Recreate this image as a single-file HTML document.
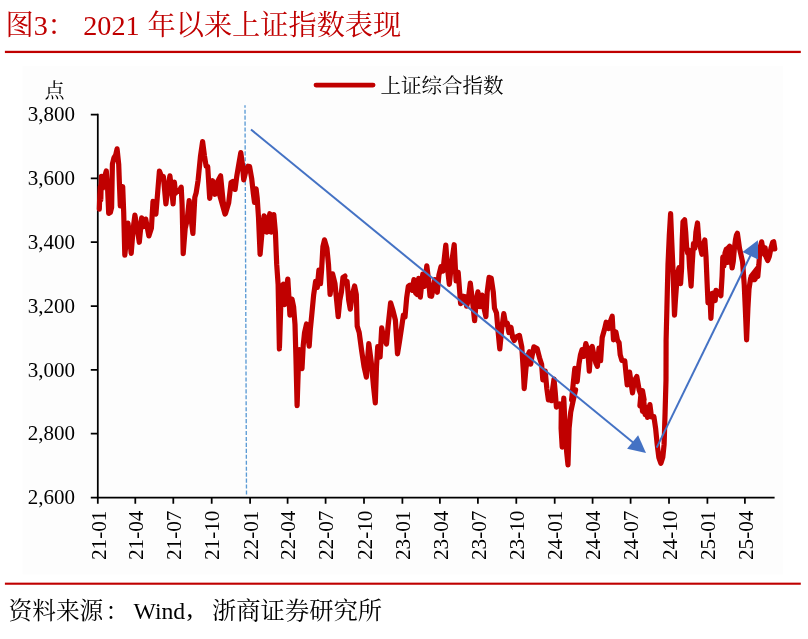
<!DOCTYPE html>
<html><head><meta charset="utf-8"><title>chart</title>
<style>html,body{margin:0;padding:0;background:#fff}body{width:808px;height:639px;position:relative;overflow:hidden;font-family:"Liberation Serif",serif}.t{position:absolute;color:transparent;white-space:nowrap;line-height:1.1;user-select:none}</style>
</head><body>
<div class="t" style="left:6px;top:8px;font-size:28px">图3： 2021 年以来上证指数表现</div>
<div class="t" style="left:45px;top:79px;font-size:20px">点</div>
<div class="t" style="left:381px;top:74px;font-size:20px">上证综合指数</div>
<div class="t" style="left:7px;top:597px;font-size:24px">资料来源：Wind，浙商证券研究所</div>
<svg role="img" aria-label="2021 年以来上证指数表现" width="808" height="639" viewBox="0 0 808 639" style="position:absolute;left:0;top:0;will-change:transform">
<rect x="22.6" y="65.8" width="760.4" height="508.7" fill="#fdfdfd"/>
<rect x="4.9" y="50.8" width="795.9" height="2.25" fill="#c00000"/>
<rect x="4.9" y="582.65" width="795.9" height="2.1" fill="#c00000"/>
<g font-family="Liberation Serif, serif" font-size="28.2" fill="#c00000">
<text x="33.8" y="34.9">3</text><text x="83.2" y="34.9">2021</text>
</g>
<g font-family="Liberation Serif, serif" font-size="23.7" fill="#000"><text x="133.5" y="619.4">Wind</text></g>
<g font-family="'Liberation Serif', 'Noto Serif CJK SC', serif" font-size="28.2" fill="#c00000">
<text x="5.5" y="34.9">图</text>
<text x="47.5" y="34.9">：</text>
<text x="147.5" y="34.9">年以来上证指数表现</text>
</g>
<text x="44.5" y="97.5" font-family="'Liberation Serif', 'Noto Serif CJK SC', serif" font-size="20" fill="#000">点</text>
<text x="380.5" y="92.5" font-family="'Liberation Serif', 'Noto Serif CJK SC', serif" font-size="20.5" fill="#000">上证综合指数</text>
<g font-family="'Liberation Serif', 'Noto Serif CJK SC', serif" fill="#000">
<text x="8.5" y="619.4" font-size="23.7">资料来源</text>
<text x="105.4" y="619.4" font-size="23.7">：</text>
<text x="212" y="619.4" font-size="24.3">浙商证券研究所</text>
</g>
<text x="186.6" y="617.4" font-family="Liberation Serif, serif" font-size="27">,</text>
<g font-family="Liberation Serif, serif" fill="#000"><text x="75.0" y="121.3" font-size="21" text-anchor="end">3,800</text><text x="75.0" y="185.1" font-size="21" text-anchor="end">3,600</text><text x="75.0" y="248.9" font-size="21" text-anchor="end">3,400</text><text x="75.0" y="312.8" font-size="21" text-anchor="end">3,200</text><text x="75.0" y="376.6" font-size="21" text-anchor="end">3,000</text><text x="75.0" y="440.4" font-size="21" text-anchor="end">2,800</text><text x="75.0" y="504.2" font-size="21" text-anchor="end">2,600</text><text transform="translate(105.5 510.6) rotate(-90)" font-size="21.2" text-anchor="end">21-01</text><text transform="translate(143.0 510.6) rotate(-90)" font-size="21.2" text-anchor="end">21-04</text><text transform="translate(181.0 510.6) rotate(-90)" font-size="21.2" text-anchor="end">21-07</text><text transform="translate(219.4 510.6) rotate(-90)" font-size="21.2" text-anchor="end">21-10</text><text transform="translate(257.8 510.6) rotate(-90)" font-size="21.2" text-anchor="end">22-01</text><text transform="translate(295.3 510.6) rotate(-90)" font-size="21.2" text-anchor="end">22-04</text><text transform="translate(333.3 510.6) rotate(-90)" font-size="21.2" text-anchor="end">22-07</text><text transform="translate(371.7 510.6) rotate(-90)" font-size="21.2" text-anchor="end">22-10</text><text transform="translate(410.1 510.6) rotate(-90)" font-size="21.2" text-anchor="end">23-01</text><text transform="translate(447.6 510.6) rotate(-90)" font-size="21.2" text-anchor="end">23-04</text><text transform="translate(485.6 510.6) rotate(-90)" font-size="21.2" text-anchor="end">23-07</text><text transform="translate(524.0 510.6) rotate(-90)" font-size="21.2" text-anchor="end">23-10</text><text transform="translate(562.4 510.6) rotate(-90)" font-size="21.2" text-anchor="end">24-01</text><text transform="translate(600.3 510.6) rotate(-90)" font-size="21.2" text-anchor="end">24-04</text><text transform="translate(638.3 510.6) rotate(-90)" font-size="21.2" text-anchor="end">24-07</text><text transform="translate(676.7 510.6) rotate(-90)" font-size="21.2" text-anchor="end">24-10</text><text transform="translate(715.1 510.6) rotate(-90)" font-size="21.2" text-anchor="end">25-01</text><text transform="translate(752.6 510.6) rotate(-90)" font-size="21.2" text-anchor="end">25-04</text></g>
<path d="M97.8 113.8V497.52M96.8 497.52H774.6" stroke="#000" stroke-width="1.75" fill="none"/><path d="M90.8 114.6H97.8M90.8 178.4H97.8M90.8 242.2H97.8M90.8 306.1H97.8M90.8 369.9H97.8M90.8 433.7H97.8M90.8 497.5H97.8M97.8 497.52V503.82M135.3 497.52V503.82M173.3 497.52V503.82M211.7 497.52V503.82M250.1 497.52V503.82M287.6 497.52V503.82M325.6 497.52V503.82M364.0 497.52V503.82M402.4 497.52V503.82M439.9 497.52V503.82M477.9 497.52V503.82M516.3 497.52V503.82M554.7 497.52V503.82M592.6 497.52V503.82M630.6 497.52V503.82M669.0 497.52V503.82M707.4 497.52V503.82M744.9 497.52V503.82" stroke="#000" stroke-width="1.75" fill="none"/>
<path d="M245.0 105.3L246.5 496.6" stroke="#5b9bd5" stroke-width="1.35" stroke-dasharray="4.1 1.85" stroke-dashoffset="1.6" fill="none"/>
<path d="M99.3,209.2 L99.8,194.8 L100.3,186.7 L100.8,199.9 L101.4,176.4 L102.6,188.3 L103.4,180.3 L104.7,176.2 L106.3,170.9 L107.6,188.3 L108.7,213.3 L110.3,212.5 L111.6,207.6 L112.4,164.2 L114.0,157.7 L115.6,155.3 L117.1,148.9 L118.7,164.2 L119.6,188.3 L120.3,206.0 L121.7,186.7 L122.7,186.7 L123.7,212.5 L124.8,255.2 L128.0,223.2 L131.2,253.3 L133.2,228.3 L134.9,215.1 L137.2,228.3 L139.3,242.3 L141.7,217.8 L143.3,226.7 L145.7,219.1 L148.9,235.9 L151.4,228.3 L153.0,201.4 L155.9,214.1 L159.4,171.1 L161.8,177.0 L163.4,176.7 L165.9,203.9 L167.8,188.3 L169.9,175.9 L172.0,193.1 L173.1,203.9 L174.4,182.2 L175.5,193.1 L177.1,190.4 L179.1,191.5 L181.2,187.2 L182.1,204.4 L183.2,253.6 L185.2,228.3 L187.1,220.3 L189.2,200.6 L191.1,218.6 L192.9,233.5 L194.8,197.4 L196.1,193.1 L198.1,180.3 L200.5,156.1 L202.6,141.6 L204.5,156.1 L206.1,166.2 L207.7,166.6 L209.7,198.3 L211.3,186.7 L212.6,180.7 L215.0,194.3 L217.4,181.9 L220.6,175.9 L223.0,201.2 L225.0,214.1 L217.4,186.7 L220.6,175.9 L223.1,201.2 L225.5,213.6 L228.7,202.8 L231.1,182.4 L232.7,181.5 L235.1,189.4 L236.7,176.7 L238.8,164.2 L240.8,152.6 L242.4,164.2 L243.7,179.8 L245.6,172.2 L248.0,166.2 L249.6,166.6 L251.7,178.6 L253.3,193.1 L254.5,202.3 L256.1,188.8 L257.2,198.0 L258.5,217.3 L260.1,254.3 L262.0,232.2 L264.1,215.8 L265.2,217.7 L266.9,232.2 L269.8,213.7 L271.4,232.2 L273.8,214.5 L275.4,232.2 L276.7,264.4 L278.1,284.2 L279.4,348.9 L280.7,308.3 L281.8,286.2 L283.4,284.2 L284.6,304.6 L286.2,289.0 L287.8,279.0 L289.1,300.3 L289.9,315.1 L292.0,299.1 L293.6,306.7 L295.0,324.4 L296.0,360.3 L297.1,405.7 L298.3,368.3 L299.5,349.5 L300.8,358.6 L302.0,368.6 L303.2,345.8 L304.5,332.9 L306.5,324.0 L307.9,336.1 L309.2,346.1 L310.3,329.7 L311.6,316.4 L313.6,295.4 L315.6,281.4 L317.3,287.4 L318.9,270.1 L320.5,283.7 L321.6,269.7 L322.9,246.7 L324.5,239.9 L326.9,248.3 L328.5,264.4 L330.1,294.5 L332.6,273.8 L335.0,283.7 L336.6,300.3 L338.2,316.7 L339.8,300.3 L341.4,292.2 L343.0,277.4 L345.0,276.1 L344.3,277.2 L346.0,283.1 L347.1,281.5 L348.7,300.4 L350.3,309.2 L352.4,294.4 L354.6,286.0 L356.3,294.4 L357.2,326.1 L359.2,332.5 L361.6,350.3 L364.0,366.4 L366.4,377.1 L367.7,358.3 L368.8,343.5 L371.2,361.5 L373.6,387.3 L375.3,402.9 L376.5,366.4 L377.7,346.7 L380.1,357.0 L381.7,327.9 L383.3,335.8 L386.5,344.1 L388.1,326.1 L390.6,302.9 L393.0,310.5 L395.4,320.2 L397.5,353.8 L399.4,342.2 L401.8,326.1 L403.4,315.0 L405.0,317.0 L406.7,297.6 L408.3,286.4 L409.9,285.2 L412.3,290.4 L413.9,279.6 L415.5,292.8 L417.1,294.4 L418.7,278.3 L420.3,297.1 L422.8,274.0 L424.4,286.4 L426.8,265.9 L428.4,278.3 L430.0,296.0 L431.6,296.3 L434.8,279.6 L437.3,292.3 L438.9,275.1 L441.0,266.7 L442.9,271.1 L445.8,245.0 L447.7,270.3 L449.3,284.3 L451.7,262.2 L454.2,244.7 L455.5,270.3 L456.1,281.0 L458.2,272.4 L460.6,303.6 L463.0,297.3 L465.0,302.5 L463.1,296.2 L465.5,296.7 L466.6,306.2 L468.2,300.3 L470.3,283.0 L472.4,300.3 L474.6,320.7 L476.3,300.3 L477.9,291.9 L480.0,306.7 L482.1,295.1 L484.0,308.3 L485.9,316.7 L487.2,292.2 L489.1,277.4 L491.2,278.2 L493.3,292.2 L494.5,308.3 L496.5,313.1 L498.2,332.5 L499.8,348.9 L501.7,329.2 L503.8,313.6 L505.7,324.4 L507.3,323.3 L508.9,332.5 L511.0,327.3 L512.6,337.3 L514.3,340.5 L515.9,337.0 L519.4,335.4 L521.8,347.0 L523.4,372.2 L524.2,388.6 L525.9,369.0 L527.5,356.1 L529.4,351.8 L530.7,364.2 L532.0,356.1 L533.9,346.9 L537.1,348.5 L539.5,357.7 L541.6,364.2 L542.8,379.8 L545.2,371.1 L546.8,388.3 L548.4,399.9 L550.3,396.4 L551.6,400.7 L552.7,388.3 L554.0,379.1 L555.3,393.1 L556.4,407.1 L559.7,404.1 L561.3,408.4 L561.1,428.3 L562.2,447.1 L562.8,420.3 L563.8,398.2 L565.1,428.3 L566.7,452.5 L568.0,464.9 L569.1,428.3 L570.7,412.2 L573.1,400.9 L575.6,389.7 L571.6,399.8 L573.2,383.7 L574.8,368.4 L576.1,375.7 L577.2,381.6 L578.9,364.4 L580.5,354.8 L582.1,349.6 L583.7,356.4 L585.8,343.6 L587.7,349.9 L589.3,371.2 L590.9,348.3 L592.2,346.4 L594.2,356.4 L595.8,362.8 L597.4,366.3 L599.0,348.0 L600.6,360.7 L602.2,337.5 L604.6,329.0 L606.2,322.2 L608.6,328.5 L610.3,321.7 L612.2,316.3 L613.5,339.8 L615.9,331.9 L617.5,340.3 L619.1,342.7 L620.2,354.8 L621.9,360.4 L624.8,360.9 L625.9,372.5 L627.2,384.9 L629.6,372.1 L631.2,383.7 L632.5,392.9 L634.4,380.5 L636.8,376.5 L639.2,390.2 L640.9,395.0 L642.5,390.7 L644.1,399.8 L639.9,405.8 L641.2,391.3 L642.5,411.4 L643.6,399.3 L645.1,414.6 L646.2,407.4 L647.5,417.4 L648.8,409.0 L649.9,404.6 L651.5,417.0 L653.9,416.7 L655.6,428.3 L657.2,444.4 L658.8,457.3 L660.9,463.3 L662.8,457.3 L664.1,444.4 L665.1,412.2 L666.0,380.0 L666.1,340.5 L666.9,308.3 L668.0,264.4 L669.3,235.4 L670.6,213.7 L671.7,240.3 L672.9,267.6 L673.7,292.2 L674.5,315.1 L675.4,300.3 L676.6,284.2 L677.7,272.9 L679.0,267.7 L680.6,283.7 L681.6,268.1 L682.2,240.3 L683.0,221.7 L684.6,219.8 L685.7,232.2 L686.7,248.3 L687.7,253.1 L688.6,249.9 L689.6,267.6 L691.1,286.1 L692.2,264.4 L693.5,243.5 L694.8,248.3 L695.9,232.2 L697.5,223.0 L698.8,240.3 L700.2,246.7 L701.9,254.3 L703.5,245.1 L704.8,239.9 L706.0,256.4 L707.0,280.5 L708.0,303.0 L709.9,293.8 L710.9,318.3 L712.0,300.3 L713.1,293.0 L715.2,300.6 L716.0,290.3 L718.4,293.0 L720.9,295.7 L722.1,276.1 L722.8,257.2 L723.9,266.0 L725.0,253.1 L726.3,249.1 L727.5,262.5 L728.6,247.5 L729.7,246.2 L731.0,254.8 L732.1,268.0 L733.3,261.2 L734.4,248.3 L735.5,239.5 L736.5,234.9 L737.4,233.3 L738.4,240.3 L739.5,248.3 L741.0,254.8 L742.6,262.0 L744.2,284.2 L745.3,308.3 L746.6,340.0 L747.9,308.3 L749.0,289.0 L750.6,278.5 L752.3,275.8 L754.7,279.6 L756.3,275.3 L757.6,268.1 L751.2,276.4 L752.9,279.7 L755.1,279.1 L756.2,274.2 L757.8,276.4 L758.9,264.3 L760.0,247.9 L761.6,241.8 L763.3,251.2 L764.4,254.5 L765.2,247.9 L766.0,256.6 L767.7,260.5 L769.3,256.6 L771.0,247.9 L772.6,242.4 L773.7,241.8 L774.8,249.0" stroke="#c00000" stroke-width="5.2" fill="none" stroke-linejoin="round" stroke-linecap="round"/>
<path d="M316 85.1H373.1" stroke="#c00000" stroke-width="4.8" stroke-linecap="round"/>
<path d="M251.0 129.5L633.4 442.7" stroke="#4472c4" stroke-width="2.0" fill="none"/><path d="M646.0 453.0L627.1 448.7L638.1 435.3Z" fill="#4472c4"/><path d="M656.7 447.6L750.8 254.8" stroke="#4472c4" stroke-width="2.0" fill="none"/><path d="M757.9 240.2L758.1 259.5L742.5 252.0Z" fill="#4472c4"/>
</svg>
</body></html>
